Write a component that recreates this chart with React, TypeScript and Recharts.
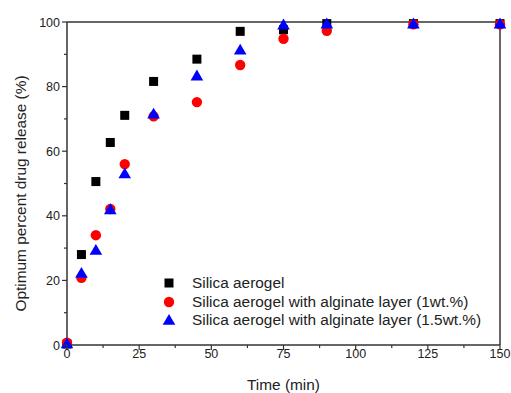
import React from 'react';
import {
  ScatterChart,
  Scatter,
  XAxis,
  YAxis,
  ReferenceLine,
} from 'recharts';

// release data
const TIME = [0, 5, 10, 15, 20, 30, 45, 60, 75, 90, 120, 150];
const SILICA = [0.3, 28, 50.6, 62.7, 71.1, 81.6, 88.5, 97.1, 97.6, 99.5, 99.5, 99.5];
const ALGINATE_1 = [0.7, 20.8, 34, 42.1, 56, 70.8, 75.2, 86.7, 94.8, 97.3, 99.3, 99.3];
const ALGINATE_15 = [0.5, 22.3, 29.4, 42, 53.1, 71.6, 83.4, 91.4, 99.2, 99.5, 99.5, 99.5];

const X_TICKS = [0, 12.5, 25, 37.5, 50, 62.5, 75, 87.5, 100, 112.5, 125, 137.5, 150];
const Y_TICKS = [0, 10, 20, 30, 40, 50, 60, 70, 80, 90, 100];

const SERIES = [
  { name: 'Silica aerogel', values: SILICA, color: '#000000', shape: 'square' },
  { name: 'Silica aerogel with alginate layer (1wt.%)', values: ALGINATE_1, color: '#FF0000', shape: 'circle' },
  { name: 'Silica aerogel with alginate layer (1.5wt.%)', values: ALGINATE_15, color: '#0000FF', shape: 'triangle' },
];

const FONT = '"Liberation Sans", Arial, sans-serif';
const AXIS = '#333333';

const toPoints = (values: number[]) => TIME.map((t, i) => ({ t, v: values[i] }));

const Marker = ({ cx, cy, shape, color }: any) => {
  if (shape === 'square') {
    return <rect x={cx - 4.5} y={cy - 4.5} width={9} height={9} fill={color} />;
  }
  if (shape === 'circle') {
    return <circle cx={cx} cy={cy} r={5.2} fill={color} />;
  }
  return (
    <polygon
      points={`${cx},${cy - 6} ${cx + 6.3},${cy + 4.8} ${cx - 6.3},${cy + 4.8}`}
      fill={color}
    />
  );
};

const YTick = ({ x, y, payload }: any) => {
  const major = payload.value % 20 === 0;
  return (
    <g>
      <line x1={x} x2={x - (major ? 5 : 3)} y1={y} y2={y} stroke={AXIS} strokeWidth={1.2} />
      {major && (
        <text x={x - 7} y={y} dy={4.5} textAnchor="end" fontSize={12.5} fontFamily={FONT} fill="#222">
          {payload.value}
        </text>
      )}
    </g>
  );
};

const XTick = ({ x, y, payload }: any) => {
  const major = payload.value % 25 === 0;
  return (
    <g>
      <line x1={x} x2={x} y1={y} y2={y + (major ? 5 : 3)} stroke={AXIS} strokeWidth={1.2} />
      {major && (
        <text x={x} y={y} dy={12.5} textAnchor="middle" fontSize={12.5} fontFamily={FONT} fill="#222">
          {payload.value}
        </text>
      )}
    </g>
  );
};

// y title sits a little below the plot's centre in the original
const YTitle = ({ viewBox }: any) => {
  const cx = 25.5;
  const cy = viewBox.y + viewBox.height / 2 + 10;
  return (
    <text
      x={cx}
      y={cy}
      transform={`rotate(-90, ${cx}, ${cy})`}
      textAnchor="middle"
      fontSize={15.4}
      fontFamily={FONT}
      fill="#222"
    >
      Optimum percent drug release (%)
    </text>
  );
};

const LegendBox = () => (
  <div
    style={{
      position: 'absolute',
      left: 161,
      top: 274,
      fontFamily: FONT,
      fontSize: 15.4,
      color: '#222',
      pointerEvents: 'none',
    }}
  >
    {SERIES.map((s) => (
      <div key={s.name} style={{ display: 'flex', alignItems: 'center', height: 18.5, whiteSpace: 'nowrap' }}>
        <svg width={16} height={16} style={{ marginRight: 15 }}>
          <Marker cx={8} cy={8} shape={s.shape} color={s.color} />
        </svg>
        <span>{s.name}</span>
      </div>
    ))}
  </div>
);

export default function App() {
  return (
    <div style={{ position: 'absolute', left: 0, top: 0, width: 511, height: 393, background: '#fff' }}>
      <ScatterChart width={511} height={393} margin={{ top: 22, right: 11, bottom: 0, left: 0 }}>
        <XAxis
          xAxisId="b"
          type="number"
          dataKey="t"
          domain={[0, 150]}
          ticks={X_TICKS}
          interval={0}
          height={48}
          stroke={AXIS}
          strokeWidth={1.5}
          tickLine={false}
          tickSize={0}
          tickMargin={0}
          tick={<XTick />}
          label={{ value: 'Time (min)', position: 'insideBottom', offset: 3, fontSize: 15.4, fontFamily: FONT, fill: '#222' }}
        />
        <YAxis
          yAxisId="l"
          type="number"
          dataKey="v"
          domain={[0, 100]}
          ticks={Y_TICKS}
          interval={0}
          width={67}
          stroke={AXIS}
          strokeWidth={1.5}
          tickLine={false}
          tickSize={0}
          tickMargin={0}
          tick={<YTick />}
          label={<YTitle />}
        />
        <ReferenceLine xAxisId="b" yAxisId="l" y={100} stroke={AXIS} strokeWidth={1.5} />
        <ReferenceLine xAxisId="b" yAxisId="l" x={150} stroke={AXIS} strokeWidth={1.5} />
        {SERIES.map((s) => (
          <Scatter
            key={s.name}
            xAxisId="b"
            yAxisId="l"
            name={s.name}
            data={toPoints(s.values)}
            fill={s.color}
            isAnimationActive={false}
            shape={(p: any) => <Marker cx={p.cx} cy={p.cy} shape={s.shape} color={s.color} />}
          />
        ))}
      </ScatterChart>
      <LegendBox />
    </div>
  );
}
